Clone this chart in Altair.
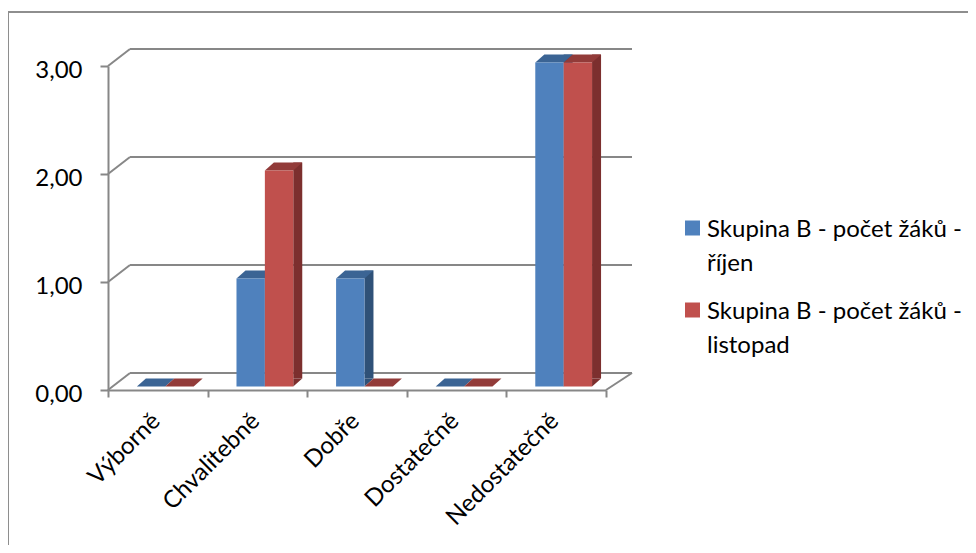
import json
import altair as alt
import pandas as pd

# ---- data ----
categories = ["Výborně", "Chvalitebně", "Dobře", "Dostatečně", "Nedostatečně"]
series_names = ["Skupina B - počet žáků - říjen", "Skupina B - počet žáků - listopad"]
values_rijen = [0, 1, 1, 0, 3]
values_listopad = [0, 2, 0, 0, 3]
y_ticks = [0, 1, 2, 3]

# ---- styles ----
FRONT = ["#4F81BD", "#C0504D"]
TOP = ["#3B6494", "#923B39"]
SIDE = ["#2F5178", "#7C2F2E"]
GRID = "#878787"
FONT = "Lato"
FS = 24

W, H = 498, 324
N = len(categories)
STEP = W / N
BAR_START, BAR_W = 0.29, 0.285
DX, DY = 9, 8          # bar depth (px)
WX, WY = 22, 17        # wall depth (px)
LIFT = 3.5

rows = []
for s, (name, vals) in enumerate(zip(series_names, [values_rijen, values_listopad])):
    for i, (cat, v) in enumerate(zip(categories, vals)):
        xl = i + BAR_START + s * BAR_W
        rows.append(dict(cat=cat, series=name, value=v, base=0, xl=xl, xr=xl + BAR_W))
bars = pd.DataFrame(rows)
grid = pd.DataFrame({"v": y_ticks, "x0": 0, "x1": N})
floor = pd.DataFrame({"v": [0], "x1": [N]})

xs = alt.Scale(domain=[0, N], nice=False, zero=False)
ys = alt.Scale(domain=[0, 3], nice=False)

x_axis = alt.Axis(
    values=list(range(N + 1)),
    labelExpr=f"{json.dumps(categories, ensure_ascii=False)}[datum.value] || ''",
    labelAngle=-45, labelAlign="right", labelBaseline="middle",
    labelOffset=48, labelPadding=20, tickSize=7, tickColor=GRID, tickWidth=2,
    domainColor=GRID, domainWidth=2, grid=False, title=None,
    labelFont=FONT, labelFontSize=FS, labelColor="black",
    labelFlush=False, labelOverlap=False, labelBound=False,
)
y_axis = alt.Axis(
    values=y_ticks, labelExpr="replace(format(datum.value, '.2f'), '.', ',')",
    tickSize=8, tickColor=GRID, tickWidth=2, domainColor=GRID, domainWidth=2,
    grid=False, title=None, labelFont=FONT, labelFontSize=FS, labelColor="black",
    labelPadding=18, labelOffset=4, orient="left",
)


def X(f):
    return alt.X(f, type="quantitative", scale=xs, axis=x_axis)


def Y(f):
    return alt.Y(f, type="quantitative", scale=ys, axis=y_axis)


def C(rng):
    return alt.Color("series:N", scale=alt.Scale(domain=series_names, range=rng), legend=None)


border = alt.Chart(alt.Data(values=[{}])).mark_rect(
    filled=False, stroke="#8E8E8E", strokeWidth=2
).encode(x=alt.value(-100), x2=alt.value(1000), y=alt.value(-54), y2=alt.value(800))

back_lines = alt.Chart(grid).mark_rule(
    color=GRID, strokeWidth=2, xOffset=WX, x2Offset=WX + 4, yOffset=-WY, y2Offset=-WY
).encode(x=X("x0"), x2="x1", y=Y("v"), y2="v")

left_diag = alt.Chart(grid).mark_rule(
    color=GRID, strokeWidth=2, x2Offset=WX, y2Offset=-WY
).encode(x=X("x0"), x2="x0", y=Y("v"), y2="v")

right_diag = alt.Chart(floor).mark_rule(
    color=GRID, strokeWidth=2, x2Offset=WX + 4, y2Offset=-WY
).encode(x=X("x1"), x2="x1", y=Y("v"), y2="v")

sides = alt.Chart(bars).mark_rect(
    x2Offset=DX, yOffset=-LIFT - DY, y2Offset=-LIFT - DY, strokeWidth=0
).encode(x=X("xr"), x2="xr", y=Y("value"), y2="base", color=C(SIDE))

tri = alt.Chart(bars).transform_filter("datum.value > 0").mark_point(
    shape=f"M0,0 L0,{-DY} L{DX},{-DY} Z", size=4, filled=True, opacity=1,
    strokeWidth=0, yOffset=-LIFT
).encode(x=X("xr"), y=Y("base"), color=C(SIDE))

bw = BAR_W * STEP
tops = alt.Chart(bars).mark_point(
    shape=f"M0,0 L{bw:.2f},0 L{bw + DX:.2f},{-DY} L{DX},{-DY} Z", size=4,
    filled=True, opacity=1, strokeWidth=0, yOffset=-LIFT
).encode(x=X("xl"), y=Y("value"), color=C(TOP))

fronts = alt.Chart(bars).mark_rect(
    yOffset=-LIFT, y2Offset=-LIFT, strokeWidth=0
).encode(x=X("xl"), x2="xr", y=Y("value"), y2="base", color=C(FRONT))

main = alt.layer(border, back_lines, left_diag, right_diag, sides, tri, tops, fronts).resolve_scale(
    color="independent"
)

leg_df = pd.DataFrame({"series": series_names})
leg_y = alt.Y("series:N", scale=alt.Scale(type="point", domain=series_names, range=[162, 244], padding=0), axis=None)
leg_sq = alt.Chart(leg_df).mark_square(size=225, opacity=1, strokeWidth=0).encode(
    x=alt.value(584.5), y=leg_y, color=C(FRONT)
)
leg_tx = alt.Chart(leg_df).transform_calculate(
    lines="[substring(datum.series, 0, lastindexof(datum.series, ' - ') + 2), "
          "substring(datum.series, lastindexof(datum.series, ' - ') + 3)]"
).mark_text(
    align="left", baseline="alphabetic", dy=9, lineHeight=34, font=FONT, fontSize=FS, color="black"
).encode(x=alt.value(599), y=leg_y, text="lines:N")
legend = alt.layer(leg_sq, leg_tx)

chart = alt.layer(main, legend).resolve_scale(y="independent", color="independent").properties(
    width=W, height=H,
    padding={"left": 100, "top": 58, "right": 362, "bottom": 155},
    autosize=alt.AutoSizeParams(type="none"),
).configure_view(stroke=None)

chart.save("out.html", embed_options={"renderer": "svg", "actions": False})
